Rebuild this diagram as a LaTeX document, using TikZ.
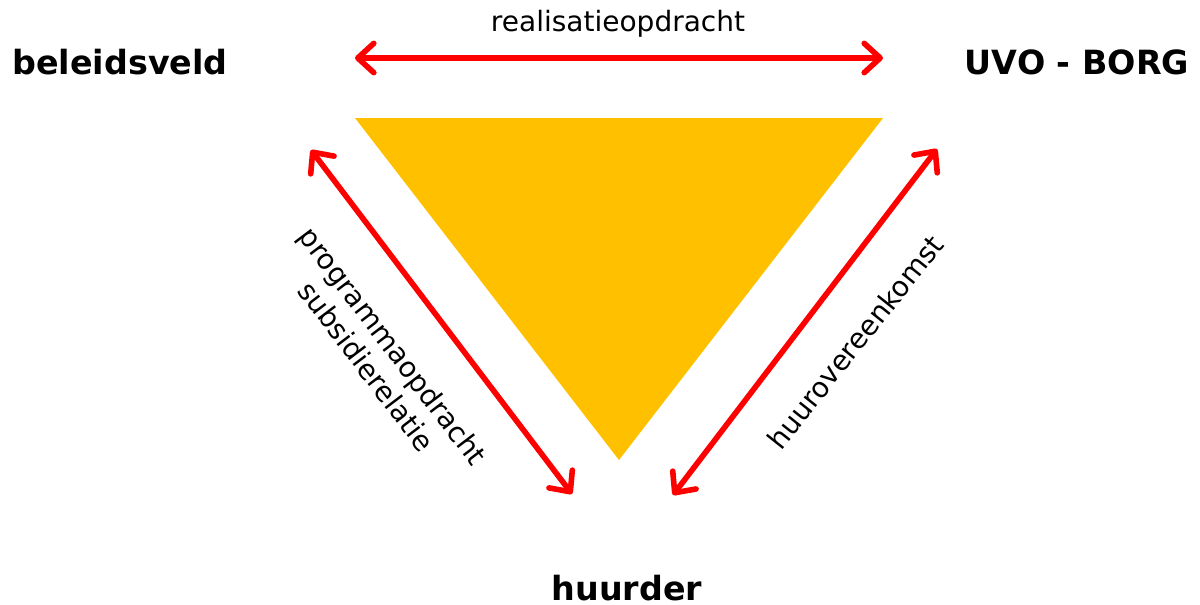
\documentclass[tikz,border=0pt]{standalone}
\usepackage{fontspec}
\setmainfont{DejaVu Sans}
\usetikzlibrary{arrows.meta}
\definecolor{tri}{HTML}{FFC000}
\definecolor{arr}{HTML}{FF0000}
\tikzset{
  rel/.style={draw=arr, line width=4.2pt, line cap=round, {Straight Barb[length=12pt,width=22pt,round]}-{Straight Barb[length=12pt,width=22pt,round]}},
  party/.style={font=\fontsize{25}{30}\selectfont\bfseries, inner sep=0pt},
  lbl/.style={font=\fontsize{21}{25}\selectfont, inner sep=0pt, align=center}
}
\begin{document}
\begin{tikzpicture}[x=0.75pt,y=-0.75pt]
\useasboundingbox (0,0) rectangle (1200,604);
\fill[tri] (355,118) -- (883,118) -- (619,460) -- cycle;
\node[party] (bel) at (120,62) {beleidsveld};
\node[party] (uvo) at (1077,62) {UVO - BORG};
\node[party] (huu) at (627,588) {huurder};
\coordinate (t1) at (355,58);
\coordinate (t2) at (883,58);
\coordinate (l1) at (311,150);
\coordinate (l2) at (572,494);
\coordinate (r1) at (673,495);
\coordinate (r2) at (937,149);
\draw[rel] (t1) -- (t2);
\draw[rel] (l1) -- (l2);
\draw[rel] (r1) -- (r2);
\node[lbl] (tl) at (618,24) {realisatieopdracht};
\node[lbl, rotate=-52.8] (ll) at (380,356) {programmaopdracht\\subsidierelatie};
\node[lbl, rotate=51.5] (rl) at (855,342) {huurovereenkomst};
\end{tikzpicture}
\end{document}
